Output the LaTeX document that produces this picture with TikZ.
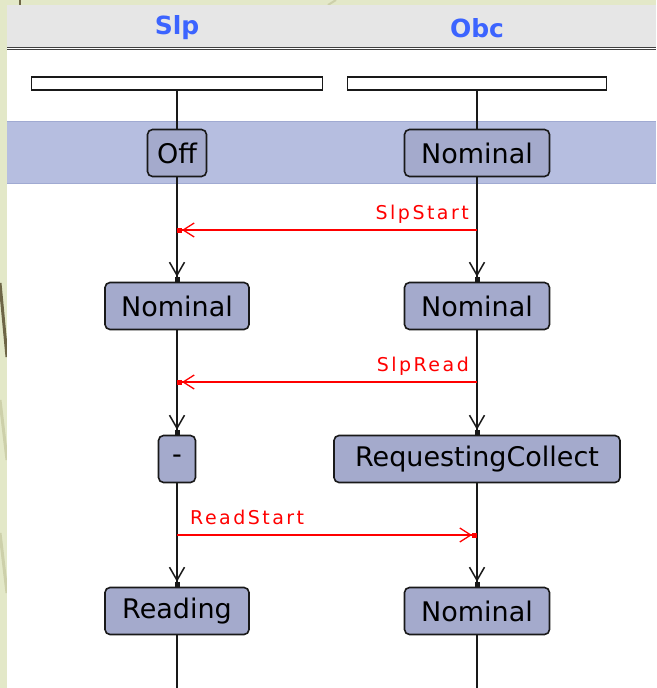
\documentclass[tikz,border=0pt]{standalone}
\usepackage{fontspec}
\setmainfont{DejaVu Sans}
\newfontfamily\lblfont[LetterSpace=13]{DejaVu Sans}
\usetikzlibrary{arrows.meta}
\definecolor{sidegreen}{RGB}{227,232,200}
\definecolor{sideline}{RGB}{205,208,170}
\definecolor{darkolive}{RGB}{110,102,70}
\definecolor{headgray}{RGB}{230,230,230}
\definecolor{bandblue}{RGB}{182,190,224}
\definecolor{bandedge}{RGB}{160,170,210}
\definecolor{statefill}{RGB}{164,170,204}
\definecolor{titleblue}{RGB}{60,100,255}
\definecolor{msgred}{RGB}{255,0,0}
\tikzset{
  state/.style={draw=black!90, fill=statefill, line width=1.6pt, rounded corners=5pt,
    minimum height=47pt, inner xsep=2pt, inner ysep=0pt,
    font=\fontsize{27}{27}\selectfont},
  lifebar/.style={draw=black!90, fill=white, line width=1.5pt, minimum height=13pt,
    inner sep=0pt},
  title/.style={text=titleblue, font=\fontsize{25}{25}\selectfont\bfseries},
  life/.style={draw=black!90, line width=1.8pt},
  flow/.style={life, -{Straight Barb[length=13pt,width=15pt,line width=1.5pt] Square[length=5pt,width=5pt]}},
  msg/.style={draw=msgred, line width=1.6pt, -{Straight Barb[length=11pt,width=14pt,line width=1.3pt] Square[length=5pt,width=5pt]}},
  msglabel/.style={text=msgred, font=\lblfont\fontsize{19}{19}\selectfont, inner sep=0pt}
}
\begin{document}
\begin{tikzpicture}[x=1pt,y=-1pt]
\useasboundingbox (0,0) rectangle (656,688);
% slide background
\fill[sidegreen] (0,0) rectangle (656,688);
\draw[sideline, line width=3pt] (0,400) -- (7,460);
\draw[sideline, line width=3pt] (0,533) -- (7,593);
\draw[darkolive, line width=3pt] (0,283) -- (7,357);
\draw[darkolive, line width=2pt] (20,0) -- (20,8);
\draw[sideline, line width=2pt] (328,5) -- (336,0);
% diagram area
\fill[white] (7,5) rectangle (656,688);
\fill[headgray] (7,5) rectangle (656,47);
\draw[black!75, line width=1pt] (7,47) -- (656,47);
\draw[black!75, line width=1pt] (7,49.5) -- (656,49.5);
\fill[bandblue] (7,121) rectangle (656,183);
\draw[bandedge, line width=1pt] (7,121) -- (656,121);
\draw[bandedge, line width=1pt] (7,183) -- (656,183);
% titles
\node[title] (tslp) at (177,28) {Slp};
\node[title] (tobc) at (477,28) {Obc};
% lifeline heads
\node[lifebar, minimum width=291pt] (hslp) at (177,83.5) {};
\node[lifebar, minimum width=259pt] (hobc) at (477,83.5) {};
% states
\node[state, minimum width=59pt] (s1) at (177,153) {Off};
\node[state, minimum width=145pt] (o1) at (477,153) {Nominal};
\node[state, minimum width=144pt] (s2) at (177,306) {Nominal};
\node[state, minimum width=145pt] (o2) at (477,306) {Nominal};
\node[state, minimum width=37pt] (s3) at (177,459) {-};
\node[state, minimum width=286pt] (o3) at (477,459) {RequestingCollect};
\node[state, minimum width=144pt] (s4) at (177,611) {Reading};
\node[state, minimum width=145pt] (o4) at (477,611) {Nominal};
% lifelines
\draw[life] (hslp.south) -- (s1.north);
\draw[life] (hobc.south) -- (o1.north);
\draw[flow] (s1.south) -- (s2.north);
\draw[flow] (o1.south) -- (o2.north);
\draw[flow] (s2.south) -- (s3.north);
\draw[flow] (o2.south) -- (o3.north);
\draw[flow] (s3.south) -- (s4.north);
\draw[flow] (o3.south) -- (o4.north);
\coordinate (es) at (177,688);
\coordinate (eo) at (477,688);
\draw[life] (s4.south) -- (es);
\draw[life] (o4.south) -- (eo);
% messages
\coordinate (m1o) at (477,230);
\coordinate (m1s) at (177,230);
\coordinate (m2o) at (477,382);
\coordinate (m2s) at (177,382);
\coordinate (m3s) at (177,535);
\coordinate (m3o) at (477,535);
\draw[msg] (m1o) -- (m1s);
\node[msglabel, anchor=base east] (l1) at (469,219) {SlpStart};
\draw[msg] (m2o) -- (m2s);
\node[msglabel, anchor=base east] (l2) at (469,371) {SlpRead};
\draw[msg] (m3s) -- (m3o);
\node[msglabel, anchor=base west] (l3) at (190,524) {ReadStart};
\end{tikzpicture}
\end{document}
